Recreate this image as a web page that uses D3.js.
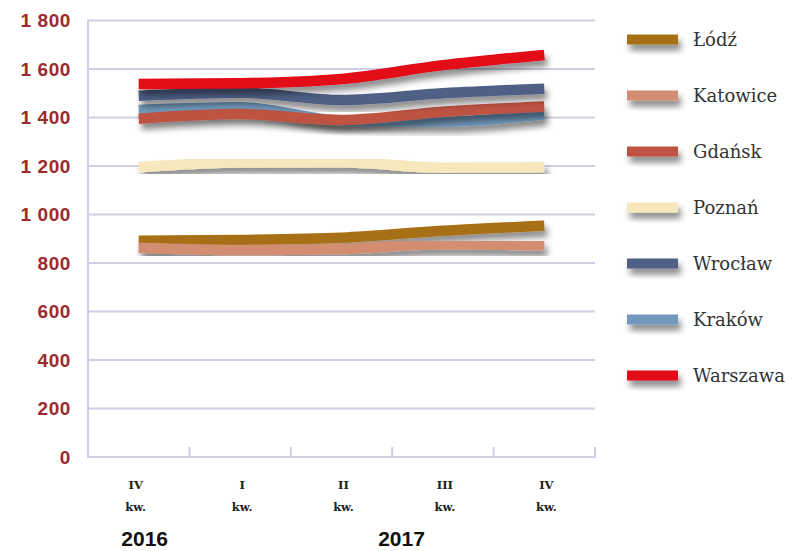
<!DOCTYPE html>
<html><head><meta charset="utf-8">
<script src="https://cdn.jsdelivr.net/npm/d3@7"></script>
<style>body{margin:0;background:#fff}</style>
</head><body>
<svg id="c" width="794" height="551"></svg>
<script>
const quarters = ["IV", "I", "II", "III", "IV"];
const years = [{label:"2016", q:0}, {label:"2017", q:2}];
const yTicks = [0,200,400,600,800,1000,1200,1400,1600,1800];

const cities = ["Łódź","Katowice","Gdańsk","Poznań","Wrocław","Kraków","Warszawa"];
const colors = ["#a87012","#d38d70","#be5343","#f7e7bc","#4f5f85","#7299bd","#e20715"];
const lodz     = [892, 895, 904, 933, 954];
const katowice = [863, 854, 858, 877, 873];
const gdansk   = [1395, 1414, 1390, 1424, 1445];
const poznan   = [1195, 1214, 1215, 1193, 1195];
const wroclaw  = [1490, 1502, 1472, 1500, 1519];
const krakow   = [1431, 1442, 1387, 1383, 1413];
const warszawa = [1538, 1541, 1559, 1616, 1658];
const values = [lodz, katowice, gdansk, poznan, wroclaw, krakow, warszawa];
const drawOrder = ["Kraków","Gdańsk","Łódź","Katowice","Poznań","Wrocław","Warszawa"];

const svg = d3.select("#c");
const L = 88, R = 595, T = 20.5, B = 457;
const x = d3.scaleBand().domain(d3.range(quarters.length)).range([L, R]);
const y = d3.scaleLinear().domain([0,1800]).range([B, T]);

const defs = svg.append("defs");
const f = defs.append("filter").attr("id","sh").attr("x","-20%").attr("y","-50%").attr("width","140%").attr("height","250%");
f.append("feDropShadow").attr("dx",3).attr("dy",6).attr("stdDeviation",3)
  .attr("flood-color","#000").attr("flood-opacity",0.45);

// gridlines
svg.append("g").selectAll("line").data(yTicks.filter(d=>d>0)).join("line")
  .attr("x1",L).attr("x2",R).attr("y1",d=>y(d)).attr("y2",d=>y(d))
  .attr("stroke","#cdd0e3").attr("stroke-width",2);
// axes
svg.append("line").attr("x1",L).attr("x2",L).attr("y1",T-1).attr("y2",B+1).attr("stroke","#cdd0e3").attr("stroke-width",2);
svg.append("line").attr("x1",L).attr("x2",R).attr("y1",B).attr("y2",B).attr("stroke","#cdd0e3").attr("stroke-width",2);
svg.append("g").selectAll("line").data(d3.range(quarters.length)).join("line")
  .attr("x1",d=>x(d)+x.bandwidth()).attr("x2",d=>x(d)+x.bandwidth())
  .attr("y1",B-10).attr("y2",B+1).attr("stroke","#cdd0e3").attr("stroke-width",2);

// y labels
svg.append("g").selectAll("text").data(yTicks).join("text")
  .attr("x",71).attr("y",d=>y(d)).attr("dy","0.35em").attr("text-anchor","end")
  .attr("font-family","Liberation Sans, Arial, sans-serif").attr("font-weight","bold")
  .attr("font-size",19).attr("letter-spacing",0.6).attr("fill","#9b2a2d")
  .text(d=>d3.format(",")(d).replace(",", " "));

// x labels
const xl = svg.append("g").attr("font-family","DejaVu Serif, serif").attr("font-weight","bold")
  .attr("font-size",11.5).attr("fill","#222").attr("text-anchor","middle");
quarters.forEach((q,i)=>{
  const cx = x(i)+x.bandwidth()/2 + (i===0 ? -3 : 2);
  xl.append("text").attr("x",cx).attr("y",489).text(q);
  xl.append("text").attr("x",cx).attr("y",511).text("kw.");
});
svg.append("g").selectAll("text").data(years).join("text")
  .attr("x",d=>x(d.q)+x.bandwidth()/2 + (d.q===0?6:60)).attr("y",546)
  .attr("text-anchor","middle").attr("font-family","Liberation Sans, Arial, sans-serif")
  .attr("font-weight","bold").attr("font-size",21).attr("fill","#111").text(d=>d.label);

// lines
const line = d3.line().x((d,i)=>x(i)+x.bandwidth()/2).y(d=>y(d)).curve(d3.curveMonotoneX);
const lg = svg.append("g");
drawOrder.forEach(name=>{
  const i = cities.indexOf(name);
  lg.append("path").datum(values[i]).attr("d",line).attr("fill","none")
    .attr("stroke",colors[i]).attr("stroke-width",10.5).attr("stroke-linecap","butt")
    .attr("filter","url(#sh)");
});

// legend
const leg = svg.append("g").selectAll("g").data(cities).join("g")
  .attr("transform",(d,i)=>`translate(627,${39.5 + i*56})`);
leg.append("rect").attr("x",0).attr("y",-5).attr("width",51).attr("height",10)
  .attr("fill",(d,i)=>colors[i]).attr("filter","url(#sh)");
leg.append("text").attr("x",66).attr("y",0).attr("dy","0.35em")
  .attr("font-family","DejaVu Serif, serif").attr("font-size",18).attr("fill","#333")
  .text(d=>d);
</script>
</body></html>
